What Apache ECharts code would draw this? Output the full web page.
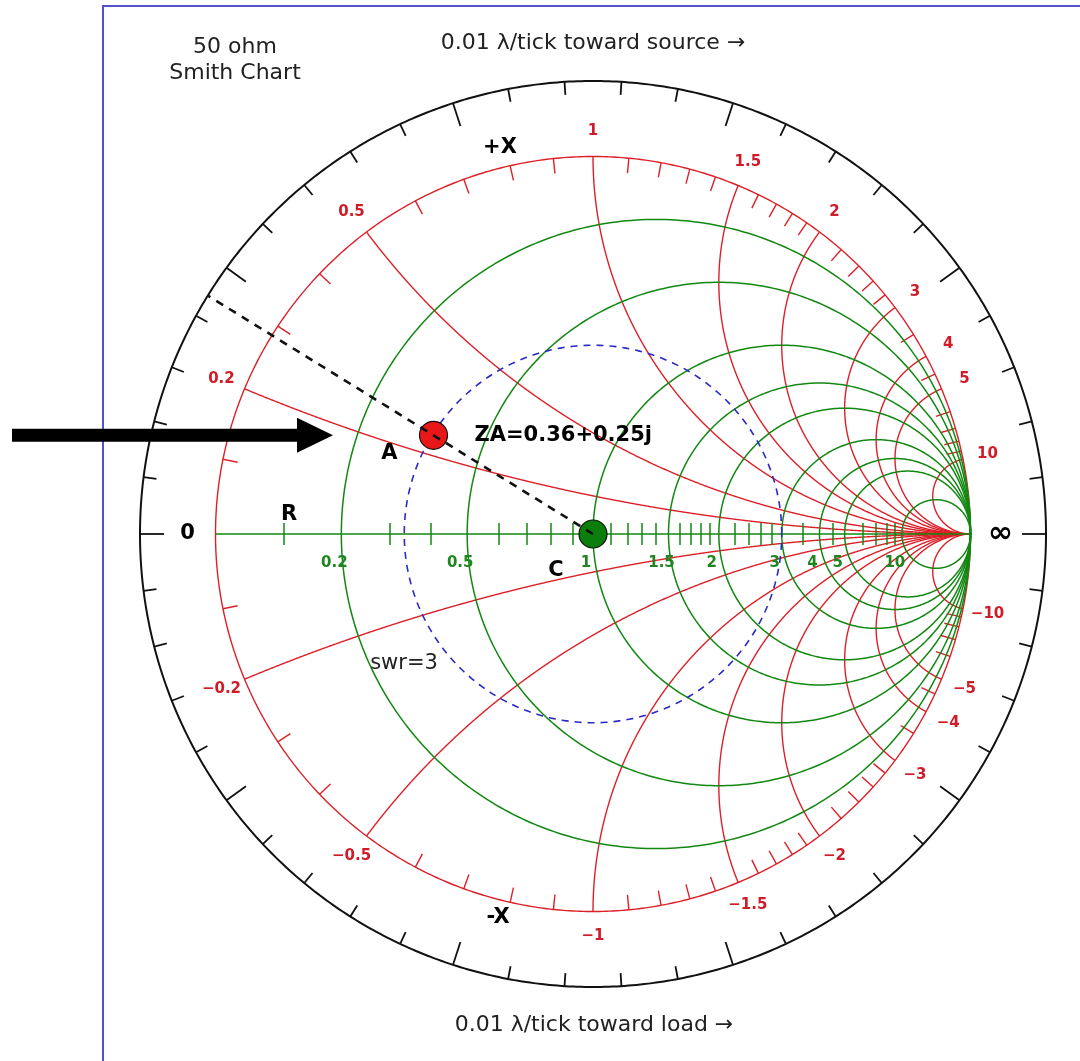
<!DOCTYPE html>
<html>
<head>
<meta charset="utf-8">
<script src="https://cdn.jsdelivr.net/npm/echarts@6/dist/echarts.min.js"></script>
<style>
html, body { margin: 0; padding: 0; background: #ffffff; }
#chart { width: 1080px; height: 1061px; }
</style>
</head>
<body>
<div id="chart"></div>
<script>
// ---- Chart values (impedances normalised to 50 ohm) ----
const resistanceCircles = [0.2, 0.5, 1, 1.5, 2, 3, 4, 5, 10];
const reactanceArcs = [0.2, 0.5, 1, 1.5, 2, 3, 4, 5, 10];
const minorTicks = [0.1, 0.3, 0.4, 0.6, 0.7, 0.8, 0.9, 1.1, 1.2, 1.3, 1.4,
                    1.6, 1.7, 1.8, 1.9, 2.2, 2.4, 2.6, 2.8, 3.5, 4.5, 6, 7, 8, 9];
const resistanceLabels = ['0.2', '0.5', '1', '1.5', '2', '3', '4', '5', '10'];
const reactanceLabels = ['0.2', '0.5', '1', '1.5', '2', '3', '4', '5', '10'];

// load point A, chart centre C and the standing-wave ratio through A
const zA = [0.36, 0.25];
const zC = [1, 0];
const swr = 3;

// wavelength ring: 0.01 lambda per tick, one turn = half a wavelength
const lambdaPerTick = 0.01;
const majorEvery = 5;

// ---- Layout ----
const W = 1080, H = 1061;
const CX = 593, CY = 534;    // centre of the chart, px
const S = 377.5;             // px per unit of |Gamma|
const OUTER = 1.2;           // radius of the wavelength ring
const px = p => p / S;       // pixel length -> data length

const RED = '#dc2028', RED_TXT = '#d01c28';
const GREEN = '#128812', GREEN_TXT = '#1f861f';
const FONT = 'DejaVu Sans';

// reflection coefficient of z = r + jx
function gamma(r, x) {
  const d = (r + 1) * (r + 1) + x * x;
  return [(r * r + x * x - 1) / d, 2 * x / d];
}
function circle(cx, cy, rad, n) {
  const pts = [];
  for (let i = 0; i <= n; i++) {
    const a = 2 * Math.PI * i / n;
    pts.push([cx + rad * Math.cos(a), cy + rad * Math.sin(a)]);
  }
  return pts;
}
function resistanceCircle(r) {
  return circle(r / (r + 1), 0, 1 / (r + 1), 400);
}
function reactanceArc(x) {
  const pts = [];
  const N = 1200;
  for (let i = 0; i < N; i++) {
    const t = i / N;
    pts.push(gamma(t / (1 - t), x));
  }
  pts.push([1, 0]);
  return pts;
}

// ---- Grid lines ----
const redLines = [{ coords: circle(0, 0, 1, 720) }];
reactanceArcs.forEach(x => {
  redLines.push({ coords: reactanceArc(x) });
  redLines.push({ coords: reactanceArc(-x) });
});
const greenLines = resistanceCircles.map(r => ({ coords: resistanceCircle(r) }));
greenLines.push({ coords: [[-1, 0], [1, 0]] });

// minor ticks: on the real axis (green) and on the rim (red)
const axisTicks = minorTicks.map(r => {
  const g = (r - 1) / (r + 1);
  return { coords: [[g, -px(11)], [g, px(11)]] };
});
const rimTicks = [];
minorTicks.forEach(x => {
  [x, -x].forEach(v => {
    const p = gamma(0, v);
    const k = 1 - px(15);
    rimTicks.push({ coords: [p, [p[0] * k, p[1] * k]] });
  });
});

// wavelength ring ticks, counted from the short-circuit point
const ringTicks = [];
const nTicks = Math.round(0.5 / lambdaPerTick);
for (let k = 0; k < nTicks; k++) {
  const a = Math.PI + 2 * Math.PI * k / nTicks;
  const len = (k % majorEvery === 0) ? px(24) : px(13);
  const c = Math.cos(a), s = Math.sin(a);
  ringTicks.push({ coords: [[OUTER * c, OUTER * s], [(OUTER - len) * c, (OUTER - len) * s]] });
}

// ---- Marked points ----
const gA = gamma(zA[0], zA[1]);
const gC = gamma(zC[0], zC[1]);
const swrRadius = (swr - 1) / (swr + 1);
const dirA = Math.atan2(gA[1] - gC[1], gA[0] - gC[0]);
const radialEnd = [gC[0] + OUTER * Math.cos(dirA), gC[1] + OUTER * Math.sin(dirA)];

// ---- Scale labels ----
const LBL_R = 1 + px(25);
const redLabelData = [];
reactanceArcs.forEach((x, i) => {
  [1, -1].forEach(sg => {
    const p = gamma(0, sg * x);
    redLabelData.push({ name: (sg < 0 ? '\u2212' : '') + reactanceLabels[i],
                        value: [p[0] * LBL_R, p[1] * LBL_R] });
  });
});
const greenLabelData = resistanceCircles.map((r, i) => ({
  name: resistanceLabels[i],
  value: [(r - 1) / (r + 1) - px(7), -px(29)]
}));

// annotation texts placed on the chart plane
const boldTexts = [
  { name: '0', value: [-1 - px(28), 0] },
  { name: '+X', value: [px(500 - CX), px(CY - 148)] },
  { name: '-X', value: [px(498 - CX), px(CY - 918)] },
  { name: 'R', value: [-0.9 / 1.1 + px(5), px(19)] },
  { name: 'A', value: [gA[0] - px(44), gA[1] - px(18)] },
  { name: 'C', value: [gC[0] - px(37), gC[1] - px(37)] }
];
const swrText = [{ name: 'swr=' + swr, value: [px(404 - CX), px(CY - 664)] }];
const zaText = [{ name: 'ZA=' + zA[0] + '+' + zA[1] + 'j', value: [gA[0] + px(41), gA[1]] }];
const infText = [{ name: '\u221E', value: [1 + px(30), 0] }];

// pointer arrow aimed at A
const arrowTail = [px(12 - CX), gA[1]];
const arrowTip = [px(333 - CX), gA[1]];

function textSeries(data, size, weight, color, align) {
  return {
    type: 'scatter', data: data, symbolSize: 1,
    itemStyle: { color: 'rgba(0,0,0,0)', opacity: 1 }, silent: true, z: 8,
    label: {
      show: true, position: 'inside', formatter: '{b}', align: align || 'center',
      fontFamily: FONT, fontSize: size, fontWeight: weight, color: color, opacity: 1
    }
  };
}

const chart = echarts.init(document.getElementById('chart'), null, { renderer: 'canvas' });
chart.setOption({
  animation: false,
  backgroundColor: '#ffffff',
  grid: { left: 0, right: 0, top: 0, bottom: 0, containLabel: false },
  xAxis: { type: 'value', min: -CX / S, max: (W - CX) / S, show: false },
  yAxis: { type: 'value', min: -(H - CY) / S, max: CY / S, show: false },
  graphic: [
    { type: 'rect', shape: { x: 103, y: 6, width: 1100, height: 1100 },
      style: { fill: 'none', stroke: '#5252cc', lineWidth: 2 }, z: 0 },
    { type: 'text', x: 235, y: 60, z: 10,
      style: { text: '50 ohm\nSmith Chart', font: '22px "DejaVu Sans"', fill: '#222',
               align: 'center', verticalAlign: 'middle', lineHeight: 26 } },
    { type: 'text', x: 593, y: 43, z: 10,
      style: { text: '0.01 \u03BB/tick toward source \u2192', font: '22px "DejaVu Sans"', fill: '#222',
               align: 'center', verticalAlign: 'middle' } },
    { type: 'text', x: 594, y: 1025, z: 10,
      style: { text: '0.01 \u03BB/tick toward load \u2192', font: '22px "DejaVu Sans"', fill: '#222',
               align: 'center', verticalAlign: 'middle' } }
  ],
  series: [
    { type: 'lines', coordinateSystem: 'cartesian2d', polyline: true, silent: true, z: 2,
      lineStyle: { color: RED, width: 1.4, opacity: 1 }, data: redLines },
    { type: 'lines', coordinateSystem: 'cartesian2d', silent: true, z: 2,
      lineStyle: { color: RED, width: 1.4, opacity: 1 }, data: rimTicks },
    { type: 'lines', coordinateSystem: 'cartesian2d', polyline: true, silent: true, z: 3,
      lineStyle: { color: GREEN, width: 1.5, opacity: 1 }, data: greenLines },
    { type: 'lines', coordinateSystem: 'cartesian2d', silent: true, z: 3,
      lineStyle: { color: GREEN, width: 1.5, opacity: 1 }, data: axisTicks },
    { type: 'lines', coordinateSystem: 'cartesian2d', polyline: true, silent: true, z: 3,
      lineStyle: { color: '#111', width: 2, opacity: 1 },
      data: [{ coords: circle(0, 0, OUTER, 720) }] },
    { type: 'lines', coordinateSystem: 'cartesian2d', silent: true, z: 3,
      lineStyle: { color: '#111', width: 1.8, opacity: 1 }, data: ringTicks },
    { type: 'lines', coordinateSystem: 'cartesian2d', polyline: true, silent: true, z: 4,
      lineStyle: { color: '#2a2ac4', width: 1.6, type: [7, 6], opacity: 1 },
      data: [{ coords: circle(gC[0], gC[1], swrRadius, 360) }] },
    { type: 'scatter', silent: true, z: 5, symbolSize: 28,
      data: [{ value: gA, itemStyle: { color: '#e81818' } },
             { value: gC, itemStyle: { color: '#0b7d0b' } }],
      itemStyle: { borderColor: '#111', borderWidth: 1.2, opacity: 1 } },
    { type: 'lines', coordinateSystem: 'cartesian2d', silent: true, z: 6,
      lineStyle: { color: '#111', width: 2.6, type: [8, 7], opacity: 1 },
      data: [{ coords: [gC, radialEnd] }] },
    textSeries(redLabelData, 15, 'bold', RED_TXT),
    textSeries(greenLabelData, 15, 'bold', GREEN_TXT),
    textSeries(boldTexts, 21, 'bold', '#000'),
    textSeries(swrText, 21, 'normal', '#222'),
    textSeries(zaText, 21, 'bold', '#000', 'left'),
    textSeries(infText, 30, 'bold', '#000'),
    { type: 'custom', silent: true, z: 9, data: [[arrowTip[0], arrowTip[1], arrowTail[0]]],
      renderItem: function (params, api) {
        const tip = api.coord([api.value(0), api.value(1)]);
        const tail = api.coord([api.value(2), api.value(1)]);
        const sh = 6.5, hh = 17.5, hl = 36;
        return {
          type: 'polygon',
          shape: { points: [
            [tail[0], tip[1] - sh], [tip[0] - hl, tip[1] - sh], [tip[0] - hl, tip[1] - hh],
            [tip[0], tip[1]], [tip[0] - hl, tip[1] + hh], [tip[0] - hl, tip[1] + sh],
            [tail[0], tip[1] + sh]
          ] },
          style: { fill: '#000' }
        };
      } }
  ]
});
</script>
</body>
</html>
